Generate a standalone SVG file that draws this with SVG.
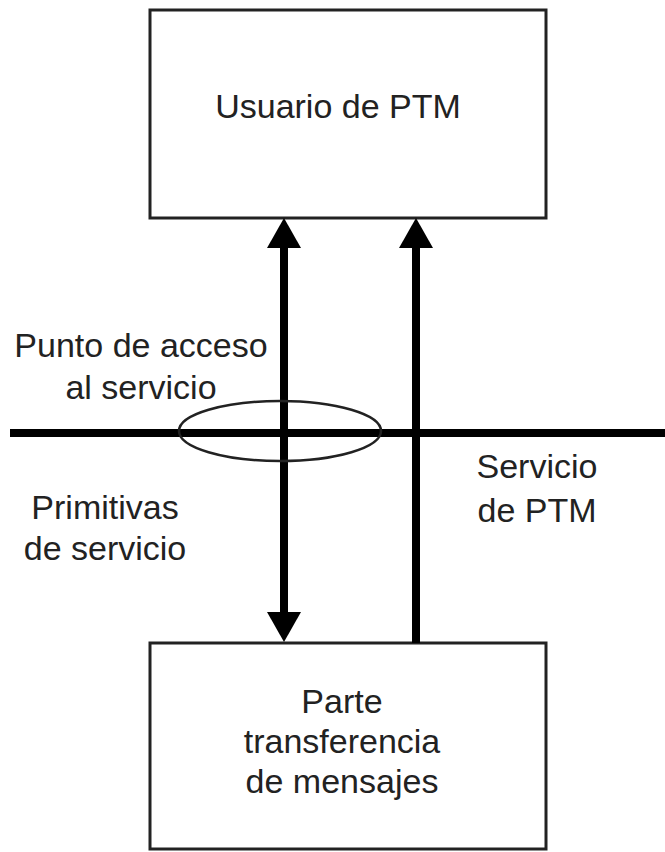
<svg xmlns="http://www.w3.org/2000/svg" width="665" height="852" viewBox="0 0 665 852">
<style>
.box{fill:#fff;stroke:#222;stroke-width:3}
.t{font-family:"Liberation Sans",Arial,sans-serif;font-size:34px;fill:#222;text-anchor:middle}
.conn{stroke:#000;stroke-width:8;fill:none}
</style>
<defs>
<marker id="ah" viewBox="0 0 30 34" refX="0" refY="17" markerWidth="30" markerHeight="34" markerUnits="userSpaceOnUse" orient="auto-start-reverse">
<path d="M0,0 L30,17 L0,34 z" fill="#000"/>
</marker>
</defs>
<rect width="665" height="852" fill="#fff"/>
<g id="usuario">
<rect class="box" x="150" y="10" width="396" height="208"/>
<text class="t" x="338" y="118">Usuario de PTM</text>
</g>
<g id="parte">
<rect class="box" x="150" y="643" width="396" height="206"/>
<text class="t" x="342" y="713">Parte</text>
<text class="t" x="342" y="753">transferencia</text>
<text class="t" x="342" y="793">de mensajes</text>
</g>
<g id="connectors">
<line class="conn" x1="10" y1="433" x2="665" y2="433"/>
<line class="conn" x1="284" y1="248" x2="284" y2="612" marker-start="url(#ah)" marker-end="url(#ah)"/>
<line class="conn" x1="416" y1="248" x2="416" y2="643" marker-start="url(#ah)"/>
<ellipse cx="280" cy="431" rx="101" ry="30" fill="none" stroke="#222" stroke-width="2.5"/>
</g>
<g id="labels">
<text class="t" x="141" y="357">Punto de acceso</text>
<text class="t" x="141" y="399">al servicio</text>
<text class="t" x="105" y="519">Primitivas</text>
<text class="t" x="105" y="560">de servicio</text>
<text class="t" x="537" y="478">Servicio</text>
<text class="t" x="537" y="522">de PTM</text>
</g>
</svg>
